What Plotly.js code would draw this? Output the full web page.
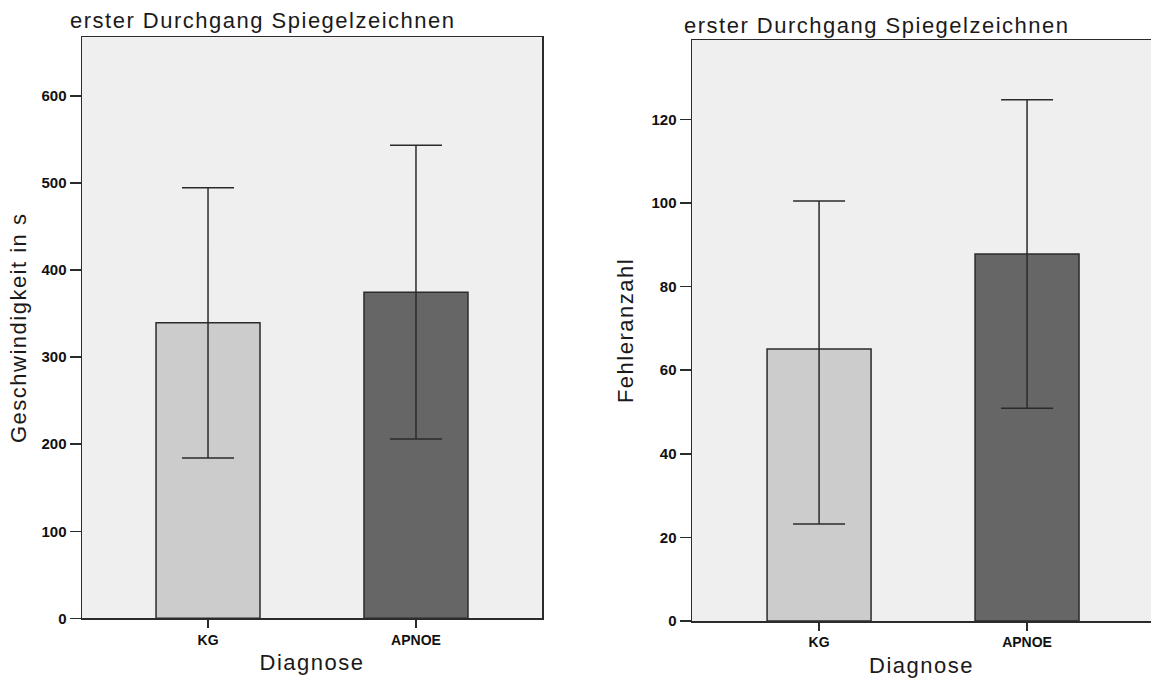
<!DOCTYPE html>
<html><head><meta charset="utf-8">
<script src="https://cdn.plot.ly/plotly-3.0.1.min.js"></script>
<style>
html,body{margin:0;padding:0;background:#fff;}
#chart{width:1151px;height:682px;}
.js-plotly-plot .annotation-text, .js-plotly-plot .xtitle, .js-plotly-plot .ytitle, .js-plotly-plot .x2title, .js-plotly-plot .y2title {letter-spacing:1.5px;}
</style></head><body><div id="chart"></div>
<script>
const categories = ['KG', 'APNOE'];
const speedMeans = [339.6, 374.5];
const speedErrorsPlus = [155, 169];
const speedErrorsMinus = [155.5, 168.5];
const errorCountMeans = [65.1, 87.8];
const errorCountErrorsPlus = [35.4, 36.9];
const errorCountErrorsMinus = [41.9, 36.9];
const barColors = ['#cccccc', '#666666'];
const panelTitle = 'erster Durchgang Spiegelzeichnen';
const xTitle = 'Diagnose';
const yTitleLeft = 'Geschwindigkeit in s';
const yTitleRight = 'Fehleranzahl';

const lineCol = '#2b2b2b';
const titleFont = {family: 'Liberation Sans, Arial, sans-serif', size: 22, color: '#1a1a1a'};
const tickFontY = {family: 'Liberation Sans, Arial, sans-serif', size: 15, color: '#111', weight: 'bold'};
const tickFontX = {family: 'Liberation Sans, Arial, sans-serif', size: 14, color: '#111', weight: 'bold'};

function barTrace(means, errsPlus, errsMinus, xa, ya) {
  return {
    type: 'bar', x: categories, y: means, xaxis: xa, yaxis: ya,
    width: 0.5,
    marker: {color: barColors, line: {color: lineCol, width: 1.5}},
    error_y: {type: 'data', symmetric: false, array: errsPlus, arrayminus: errsMinus, visible: true, color: lineCol, thickness: 1.5, width: 26},
    showlegend: false, hoverinfo: 'none'
  };
}

const data = [
  barTrace(speedMeans, speedErrorsPlus, speedErrorsMinus, 'x', 'y'),
  barTrace(errorCountMeans, errorCountErrorsPlus, errorCountErrorsMinus, 'x2', 'y2')
];

function xAxis(domain, range, anchor) {
  return {
    domain: domain, range: range, anchor: anchor, type: 'category',
    showline: true, linecolor: lineCol, linewidth: 1.5, mirror: true,
    ticks: 'outside', ticklen: 8, tickwidth: 1.5, tickcolor: lineCol,
    tickfont: tickFontX, showgrid: false, zeroline: false, fixedrange: true,
    title: {text: xTitle, font: titleFont, standoff: 8}
  };
}
function yAxis(domain, range, dtick, anchor, title, mirror, standoff) {
  return {
    domain: domain, range: range, anchor: anchor, dtick: dtick, tick0: 0,
    showline: true, linecolor: lineCol, linewidth: 1.5, mirror: mirror,
    ticks: 'outside', ticklen: 11, tickwidth: 1.5, tickcolor: lineCol,
    tickfont: tickFontY, showgrid: false, zeroline: false, fixedrange: true,
    title: {text: title, font: titleFont, standoff: standoff}
  };
}

const layout = {
  width: 1151, height: 682,
  margin: {l: 0, r: 0, t: 0, b: 0},
  paper_bgcolor: '#ffffff', plot_bgcolor: '#efefef',
  bargap: 0.5,
  xaxis: xAxis([82/1151, 542/1151], [-0.606, 1.606], 'y'),
  yaxis: yAxis([63.7/682, 644.7/682], [0, 667.4], 100, 'x', yTitleLeft, true, 9),
  xaxis2: xAxis([692/1151, 1], [-0.611, 1.596], 'y2'),
  yaxis2: yAxis([61/682, 642/682], [0, 139], 20, 'x2', yTitleRight, false, 12),
  annotations: [
    {text: panelTitle, xref: 'paper', yref: 'paper', x: 92/1151, y: (682-21)/682, xanchor: 'left', yanchor: 'middle', showarrow: false, font: titleFont},
    {text: panelTitle, xref: 'paper', yref: 'paper', x: 706/1151, y: (682-26)/682, xanchor: 'left', yanchor: 'middle', showarrow: false, font: titleFont}
  ]
};

Plotly.newPlot('chart', data, layout, {displayModeBar: false, staticPlot: true});
</script></body></html>
